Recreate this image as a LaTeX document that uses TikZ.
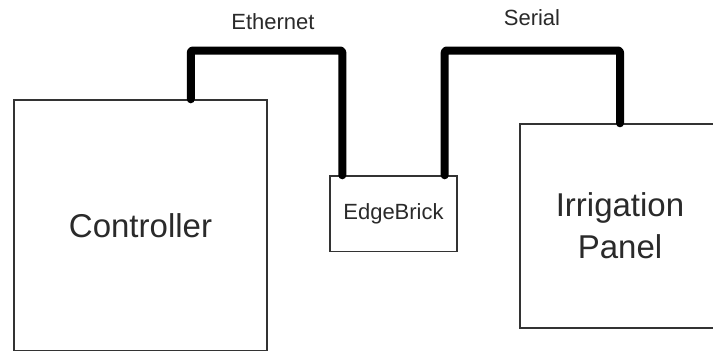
\documentclass[tikz,border=0pt]{standalone}
\usepackage{fontspec}
\setmainfont{Liberation Sans}
\usepackage{tikz}
\usetikzlibrary{positioning,calc}
\definecolor{box-line}{HTML}{333333}
\definecolor{box-text}{HTML}{2A2A2A}

\begin{document}
\begin{tikzpicture}[x=1pt,y=-1pt,
  unit/.style={draw=box-line,line width=1.4pt,fill=white,inner sep=0pt,text=box-text,align=center},
  wire/.style={line width=8pt,line cap=round,line join=round,rounded corners=2pt},
  lbl/.style={font=\fontsize{22}{26}\selectfont,text=box-text}]
  \clip (0,0) rectangle (713,351);
  \fill[white] (0,0) rectangle (713,351);
  \node[unit,minimum width=253pt,minimum height=250.5pt,font=\fontsize{33}{42}\selectfont] (ctrl) at (140.5,225.25){Controller};
  \node[unit,minimum width=127pt,minimum height=75.5pt,font=\fontsize{22}{26}\selectfont] (brick) at (393.5,213.75){EdgeBrick};
  \node[unit,minimum width=200pt,minimum height=204pt,font=\fontsize{33}{42}\selectfont] (panel) at (620,226){Irrigation\\Panel};
  \coordinate (wiretop) at (0,50.5);
  \coordinate (eth1) at ([xshift=177.5pt]ctrl.north west);
  \coordinate (eth2) at ([xshift=13pt]brick.north west);
  \coordinate (ser1) at ([xshift=-13pt]brick.north east);
  \coordinate (ser2) at (panel.north);
  \draw[wire] (eth1) -- (eth1 |- wiretop) -| (eth2);
  \draw[wire] (ser1) -- (ser1 |- wiretop) -| (ser2);
  \node[lbl] (ethlbl) at (273,22){Ethernet};
  \node[lbl] (serlbl) at (532,18){Serial};
\end{tikzpicture}
\end{document}
